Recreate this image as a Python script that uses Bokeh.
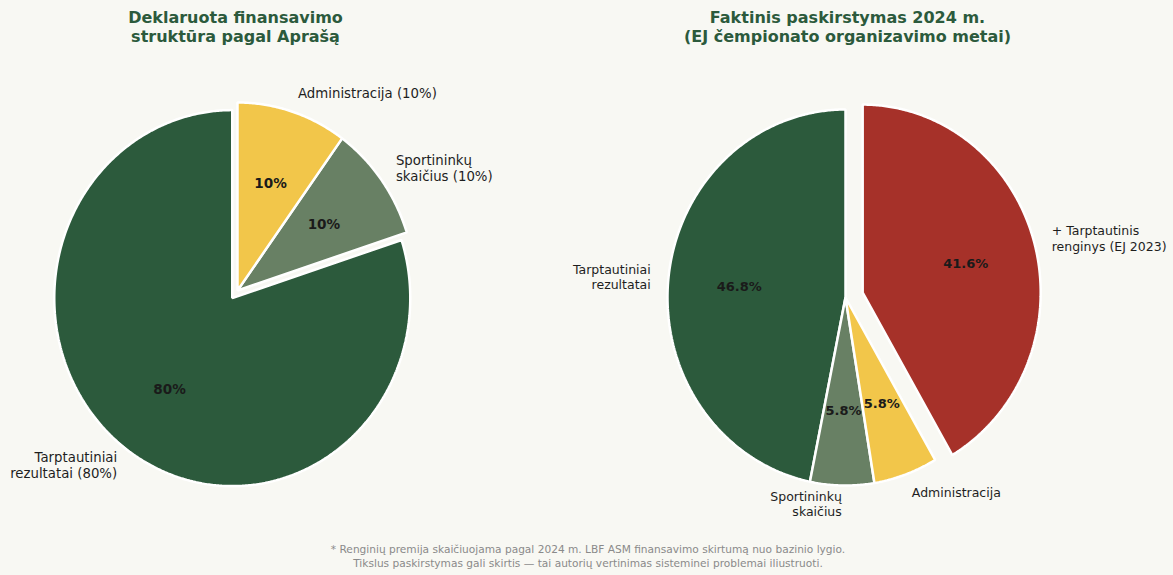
import numpy as np
from bokeh.plotting import figure
from bokeh.models import ColumnDataSource, Range1d
from bokeh.core.properties import value
from bokeh.embed import file_html
from bokeh.resources import INLINE

# ---------------- data ----------------
left_title = ["Deklaruota finansavimo", "struktūra pagal Aprašą"]
left_labels = ["Tarptautiniai\nrezultatai (80%)", "Sportininkų\nskaičius (10%)", "Administracija (10%)"]
left_values = [80, 10, 10]
left_explode = [0.05, 0, 0]

right_title = ["Faktinis paskirstymas 2024 m.", "(EJ čempionato organizavimo metai)"]
right_labels = ["Tarptautiniai\nrezultatai", "Sportininkų\nskaičius", "Administracija", "+ Tarptautinis\nrenginys (EJ 2023)"]
right_values = [46.8, 5.8, 5.8, 41.6]
right_explode = [0, 0, 0, 0.1]

left_colors = ["#2c5a3c", "#688064", "#f2c64a"]
right_colors = ["#2c5a3c", "#688064", "#f2c64a", "#a63129"]

footnote = [
    "* Renginių premija skaičiuojama pagal 2024 m. LBF ASM finansavimo skirtumą nuo bazinio lygio.",
    "Tikslus paskirstymas gali skirtis — tai autorių vertinimas sisteminei problemai iliustruoti.",
]

# ---------------- style / layout ----------------
BG = "#f8f8f3"
TITLE_COLOR = "#2c5a3c"
TEXT_COLOR = "#1e1e1e"
FONT = value("DejaVu Sans")
W, H = 1170, 572

p = figure(width=W, height=H, output_backend="svg", toolbar_location=None,
           x_range=Range1d(0, W), y_range=Range1d(H, 0),
           background_fill_color=BG, border_fill_color=BG, min_border=0)
p.axis.visible = False
p.grid.visible = False
p.outline_line_color = None


def draw_pie(values, labels, colors, explode, cx, cy, rx, ry,
             label_size, pct_size, line_h, start=90.0):
    total = float(sum(values))
    xs, ys = [], []
    lab_x, lab_y, lab_t, lab_a = [], [], [], []
    pct_x, pct_y, pct_t = [], [], []
    t1 = start
    for v, lab, e in zip(values, labels, explode):
        t2 = t1 + 360.0 * v / total
        mid = np.deg2rad((t1 + t2) / 2)
        ox = cx + e * rx * np.cos(mid)
        oy = cy - e * ry * np.sin(mid)
        ts = np.deg2rad(np.linspace(t1, t2, int(abs(t2 - t1)) * 2 + 2))
        xs.append([ox] + list(ox + rx * np.cos(ts)))
        ys.append([oy] + list(oy - ry * np.sin(ts)))
        # outer label
        lx = ox + 1.1 * rx * np.cos(mid)
        ly = oy - 1.1 * ry * np.sin(mid)
        align = "left" if np.cos(mid) > 0 else "right"
        lines = lab.split("\n")
        n = len(lines)
        for i, ln in enumerate(lines):
            lab_x.append(lx)
            lab_y.append(ly + (i - (n - 1) / 2) * line_h)
            lab_t.append(ln)
            lab_a.append(align)
        # percent label
        pct_x.append(ox + 0.6 * rx * np.cos(mid))
        pct_y.append(oy - 0.6 * ry * np.sin(mid))
        pct_t.append(f"{v:g}%")
        t1 = t2

    src = ColumnDataSource(dict(xs=xs, ys=ys, color=colors))
    p.patches("xs", "ys", source=src, fill_color="color", line_color="white", line_width=2.5)

    for al in ("left", "right"):
        idx = [i for i, a in enumerate(lab_a) if a == al]
        if not idx:
            continue
        s = ColumnDataSource(dict(x=[lab_x[i] for i in idx], y=[lab_y[i] for i in idx],
                                  t=[lab_t[i] for i in idx]))
        p.text("x", "y", text="t", source=s, text_align=al, text_baseline="middle",
               text_font=FONT, text_font_size=label_size, text_color=TEXT_COLOR)

    s = ColumnDataSource(dict(x=pct_x, y=pct_y, t=pct_t))
    p.text("x", "y", text="t", source=s, text_align="center", text_baseline="middle",
           text_font=FONT, text_font_size=pct_size, text_font_style="bold", text_color="#1a1a1a")


def draw_title(lines, cx, y0):
    s = ColumnDataSource(dict(x=[cx] * len(lines), y=[y0 + 19.2 * i for i in range(len(lines))], t=lines))
    p.text("x", "y", text="t", source=s, text_align="center", text_baseline="middle",
           text_font=FONT, text_font_size="16px", text_font_style="bold", text_color=TITLE_COLOR)


draw_pie(left_values, left_labels, left_colors, left_explode, 237, 290, 178, 188,
         "13.3px", "13.6px", 16.0)
draw_pie(right_values, right_labels, right_colors, right_explode, 845, 297, 178, 188,
         "12.5px", "13px", 15.4)
draw_title(left_title, 235, 17)
draw_title(right_title, 847, 17)

fs = ColumnDataSource(dict(x=[587.5, 587.5], y=[548, 562], t=footnote))
p.text("x", "y", text="t", source=fs, text_align="center", text_baseline="middle",
       text_font=FONT, text_font_size="10.6px", text_color="#8a8a8a")

html = file_html(p, INLINE)
html = html.replace("</head>", "<style>body{background:%s;}</style></head>" % BG, 1)
open("out.html", "w").write(html)
